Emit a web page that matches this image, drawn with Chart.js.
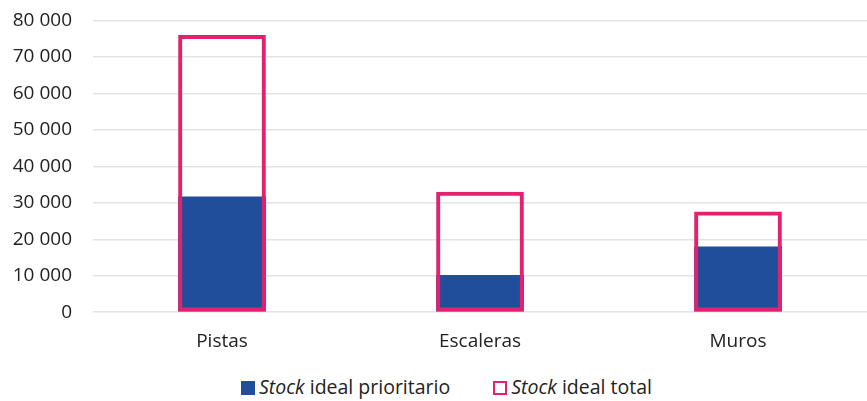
<!DOCTYPE html>
<html>
<head>
<meta charset="utf-8">
<script src="https://cdn.jsdelivr.net/npm/chart.js@4"></script>
<style>
  body { margin: 0; background: #fff; font-family: "Open Sans", sans-serif; overflow: hidden; }
  #wrap { position: relative; width: 867px; height: 375px; margin-top: -12px; }
  #legend { position: absolute; top: 373px; left: 13px; width: 867px; text-align: center; font-size: 19.5px; color: #222; white-space: nowrap; }
  #legend span.item { display: inline-block; margin: 0 19px; }
  #legend .box { display: inline-block; width: 14px; height: 14px; vertical-align: -1px; margin-right: 4px; box-sizing: border-box; }
</style>
</head>
<body>
<div id="wrap"><canvas id="myChart"></canvas></div>
<div id="legend">
  <span class="item"><span class="box" style="background:#214e9a"></span><i>Stock</i> ideal prioritario</span>
  <span class="item"><span class="box" style="border:2px solid #e5206e"></span><i>Stock</i> ideal total</span>
</div>
<script>
// categories and values
var categories = ['Pistas', 'Escaleras', 'Muros'];
var stockPrioritario = [31700, 10200, 18000];
var stockTotal = [76000, 33000, 27600];
var yTicks = [0, 10000, 20000, 30000, 40000, 50000, 60000, 70000, 80000];

function fmt(v) {
    return String(v).replace(/\B(?=(\d{3})+(?!\d))/g, ' ');
}

const ctx = document.getElementById('myChart').getContext('2d');
const myChart = new Chart(ctx, {
    type: 'bar',
    data: {
        labels: categories,
        datasets: [{
            label: 'Stock ideal prioritario',
            data: stockPrioritario,
            backgroundColor: '#214e9a',
            borderWidth: 0,
            order: 2
        }, {
            label: 'Stock ideal total',
            data: stockTotal,
            backgroundColor: 'rgba(0,0,0,0)',
            borderColor: '#e5206e',
            borderWidth: 4,
            borderSkipped: false,
            order: 1
        }]
    },
    options: {
        responsive: true,
        maintainAspectRatio: false,
        animation: false,
        datasets: {
            bar: { categoryPercentage: 1, barPercentage: 0.34, grouped: false }
        },
        plugins: {
            legend: { display: false },
            tooltip: { enabled: false }
        },
        scales: {
            x: {
                grid: { display: false },
                border: { display: false },
                ticks: { color: '#222', padding: 10, font: { family: 'Open Sans', size: 19 } }
            },
            y: {
                min: 0,
                max: 80000,
                afterBuildTicks: function(axis) {
                    axis.ticks = yTicks.map(function(v) { return { value: v }; });
                },
                afterFit: function(axis) { axis.width = 93; },
                grid: { color: '#e3e3e3', lineWidth: 1.5, drawTicks: false },
                border: { display: false },
                ticks: {
                    color: '#222',
                    padding: 21,
                    font: { family: 'Open Sans', size: 19 },
                    callback: function(v) { return fmt(v); }
                }
            }
        }
    }
});
</script>
</body>
</html>
